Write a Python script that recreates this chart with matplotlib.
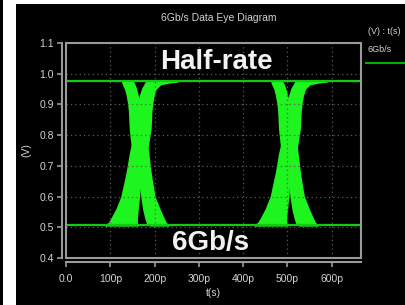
import matplotlib
matplotlib.use("Agg")
from matplotlib import pyplot as plt
from matplotlib.patches import Rectangle
from matplotlib.lines import Line2D

plt.rcParams["font.family"] = ["Liberation Sans", "DejaVu Sans"]

# eye levels (V), time span and crossing points (ps)
v_high = 0.977
v_low = 0.507
t_end = 666
crossings = [165, 502]

# edges of the falling / rising trace bands, in ps relative to a crossing
levels = [0.977, 0.972, 0.967, 0.952, 0.93, 0.905, 0.88, 0.82, 0.74, 0.68, 0.66,
          0.60, 0.56, 0.53, 0.513, 0.507]
fall_lo = [-38, -37, -36, -31, -27, -24, -22, -20, -14, -4, 0, 6, 10, 15, 19, 25]
fall_hi = [-16, -14, -12, -8, -4, 1, 8, 12, 20, 25, 27, 34, 45, 54, 60, 66]
rise_lo = [18, 16, 14, 8, 3, 0, -4, -7, -20, -27, -30, -39, -50, -61, -68, -76]
rise_hi = [88, 66, 48, 37, 32, 29, 27, 25, 16, 6, 1, -1, -4, -6, -6, -3]

x_ticks = [0, 100, 200, 300, 400, 500, 600]
x_labels = ["0.0", "100p", "200p", "300p", "400p", "500p", "600p"]
y_ticks = [0.4, 0.5, 0.6, 0.7, 0.8, 0.9, 1.0, 1.1]

green = "#1ef51e"
line_green = "#12cc12"
grey = "#9a9a9a"
txt = "#d4d4d4"

fig = plt.figure(figsize=(4.05, 3.05), dpi=100, facecolor="black")
ax = fig.add_axes([66 / 405, 1 - 258 / 305, 295 / 405, 215 / 305])
ax.set_facecolor("black")

# flat high / low levels
ax.plot([0, t_end], [v_high, v_high], color=line_green, lw=1.6)
ax.plot([0, t_end], [v_low, v_low], color=line_green, lw=1.6)

for c in crossings:
    ax.fill_betweenx(levels, [c + a for a in fall_lo], [c + b for b in fall_hi],
                     color=green, lw=1.4, joinstyle="round")
    ax.fill_betweenx(levels, [c + a for a in rise_lo], [c + b for b in rise_hi],
                     color=green, lw=1.4, joinstyle="round")

ax.set_xlim(0, t_end)
ax.set_ylim(0.4, 1.1)
ax.set_xticks(x_ticks)
ax.set_xticklabels(x_labels)
ax.set_yticks(y_ticks)
ax.set_yticklabels([f"{v:.1f}" for v in y_ticks])
ax.grid(True, color="#5c5c5c", ls=(0, (1, 2.5)), lw=0.9)

for s in ["top", "right"]:
    ax.spines[s].set_visible(False)
for s in ["left", "bottom"]:
    ax.spines[s].set_position(("outward", 3))
    ax.spines[s].set_color(grey)
    ax.spines[s].set_linewidth(1.5)
ax.tick_params(colors=grey, labelcolor=txt, labelsize=7.5, width=1.2, length=3.5, pad=2)
ax.tick_params(axis="x", pad=5)

# plot frame
ax.add_patch(Rectangle((0, 0), 1, 1, transform=ax.transAxes, fill=False,
                       ec=grey, lw=1.5, clip_on=False, zorder=5))

ax.set_xlabel("t(s)", color=txt, fontsize=7.5, labelpad=3)
ax.set_ylabel("(V)", color=txt, fontsize=7.5, labelpad=6)

fig.text(219 / 405, 1 - 18 / 305, "6Gb/s Data Eye Diagram", color=txt,
         fontsize=7.5, ha="center", va="center")
fig.text(216 / 405, 1 - 62 / 305, "Half-rate", color="#f2f2f2", fontsize=20,
         fontweight="bold", ha="center", va="center")
fig.text(211 / 405, 1 - 243 / 305, "6Gb/s", color="#f2f2f2", fontsize=20,
         fontweight="bold", ha="center", va="center")

# legend on the right
fig.text(368 / 405, 1 - 31 / 305, "(V) : t(s)", color=txt, fontsize=6.5, va="center")
fig.text(368 / 405, 1 - 49 / 305, "6Gb/s", color=txt, fontsize=6.5, va="center")
fig.add_artist(Line2D([366 / 405, 1.0], [1 - 63 / 305, 1 - 63 / 305],
                      color="#00b000", lw=1.5))

# white border strips of the screenshot
fig.add_artist(Rectangle((3 / 405, 0), 13 / 405, 1, transform=fig.transFigure,
                         color="white", lw=0))
fig.add_artist(Rectangle((16 / 405, 1 - 4 / 305), 1, 4 / 305, transform=fig.transFigure,
                         color="white", lw=0))

fig.savefig("out.png", dpi=100, facecolor="black")
